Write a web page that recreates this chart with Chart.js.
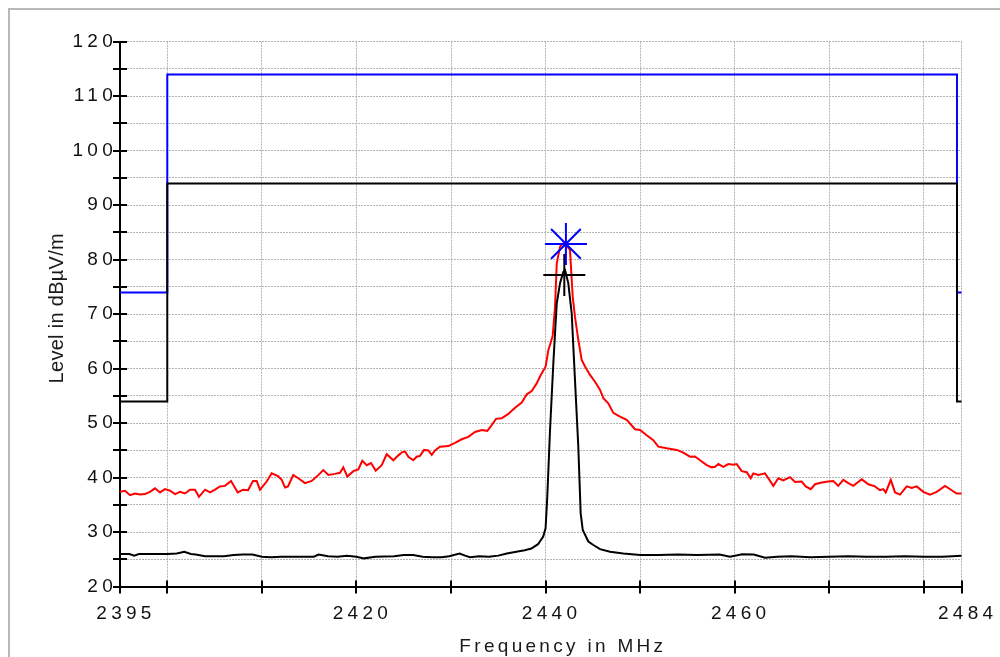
<!DOCTYPE html>
<html><head><meta charset="utf-8">
<script src="https://cdn.jsdelivr.net/npm/chart.js@4.4.1/dist/chart.umd.min.js"></script>
<style>
html,body{margin:0;padding:0;background:#fff;}
#wrap{position:relative;width:1000px;height:657px;overflow:hidden;}
#frame{position:absolute;left:8px;top:8px;width:1200px;height:900px;border-left:2px solid #b8b8b8;border-top:2px solid #b8b8b8;pointer-events:none;}
canvas{position:absolute;left:0;top:0;}
</style></head><body>
<div id="wrap"><canvas id="c" width="1000" height="657"></canvas><div id="frame"></div></div>
<script>
// ---- data ----
const redFreq = [2395.00,2395.53,2396.06,2396.59,2397.11,2397.64,2398.17,2398.70,2399.23,2399.76,2400.29,2400.82,2401.34,2401.87,2402.40,2402.93,2403.35,2403.99,2404.52,2405.05,2405.57,2406.10,2406.74,2407.45,2408.01,2408.54,2409.06,2409.45,2409.80,2410.51,2411.04,2411.71,2412.10,2412.45,2412.76,2413.32,2413.85,2414.56,2415.27,2415.80,2416.50,2417.03,2417.73,2418.26,2418.61,2419.04,2419.67,2420.20,2420.62,2421.09,2421.54,2422.04,2422.67,2423.20,2423.90,2424.43,2424.85,2425.14,2425.49,2426.01,2426.37,2426.72,2427.15,2427.60,2427.96,2428.31,2428.84,2429.72,2430.42,2431.13,2431.83,2432.54,2433.25,2433.84,2434.20,2434.76,2435.36,2436.06,2436.77,2437.48,2438.01,2438.53,2439.06,2439.49,2440.01,2440.29,2440.75,2441.00,2441.18,2441.53,2441.88,2442.06,2442.58,2442.87,2443.11,2443.46,2443.82,2444.17,2444.70,2445.23,2445.76,2446.11,2446.63,2447.16,2447.87,2448.58,2449.46,2449.99,2450.69,2451.39,2451.92,2452.81,2453.87,2454.56,2455.27,2455.80,2456.33,2457.04,2457.57,2457.92,2458.27,2458.79,2459.32,2459.85,2460.21,2460.74,2461.27,2461.69,2461.97,2462.50,2463.20,2463.55,2464.08,2464.61,2465.14,2465.85,2466.38,2467.08,2467.51,2468.04,2468.49,2469.20,2469.90,2470.43,2470.95,2471.48,2472.01,2472.54,2473.43,2474.13,2474.83,2475.36,2475.71,2475.97,2476.50,2476.95,2477.48,2478.19,2478.72,2479.24,2479.94,2480.65,2481.36,2482.24,2482.94,2483.47,2484.00];
const redLevel = [37.4,37.6,36.8,37.1,36.9,37.0,37.4,38.05,37.3,37.9,37.6,37.0,37.4,37.1,37.8,37.8,36.5,37.8,37.3,37.8,38.4,38.5,39.4,37.3,37.8,37.7,39.4,39.4,37.8,39.3,40.8,40.3,39.6,38.2,38.4,40.5,39.9,39.0,39.4,40.2,41.4,40.5,40.7,40.9,41.9,40.2,41.2,41.5,43.1,42.3,42.7,41.3,42.3,44.3,43.2,44.1,44.7,44.8,43.85,43.2,43.85,44.0,45.1,45.0,44.2,45.0,45.7,45.8,46.4,47.05,47.5,48.4,48.75,48.6,49.4,50.8,50.9,51.7,52.85,53.8,55.3,55.9,57.3,58.85,60.4,63.4,66.0,71.4,79.3,82.4,83.0,83.0,81.8,73.2,69.5,65.3,61.6,60.4,58.85,57.6,56.1,54.6,53.65,51.9,51.2,50.6,48.9,48.75,47.8,46.9,45.7,45.4,45.1,44.6,43.85,43.9,43.2,42.3,41.9,42.0,42.5,42.0,42.5,42.4,42.5,41.2,41.0,39.9,40.8,40.5,40.8,39.9,38.5,39.9,39.5,40.1,39.2,39.3,38.4,37.9,38.8,39.1,39.3,39.4,38.5,39.6,39.0,38.5,39.7,38.8,38.4,37.7,37.9,37.3,39.6,37.3,36.9,38.4,38.1,38.4,37.4,36.9,37.4,38.5,37.7,37.1,37.1];

const avgFreq = [2395,2396,2396.5,2397,2398,2399,2400,2401,2401.8,2402.5,2403,2404,2405,2406,2407,2408,2409,2410,2411,2412,2414,2415.5,2416,2417,2418,2419,2420,2420.8,2422,2424,2425,2426,2427,2428,2429,2429.8,2430.9,2431.5,2432,2433,2434,2435,2435.9,2436.9,2437.8,2438.5,2439.2,2439.75,2440.0,2440.18,2440.47,2440.82,2441.18,2441.53,2441.88,2442.06,2442.40,2442.76,2443.11,2443.46,2443.71,2443.93,2444.52,2445.05,2445.76,2446.81,2448.22,2450,2452,2454,2456,2458.4,2459.5,2460.8,2462,2463.2,2464.5,2466,2468,2470,2472,2474,2476,2478,2480,2482,2484];
const avgLevel = [26.0,26.0,25.7,26.0,26.0,26.0,26.0,26.1,26.4,26.0,25.9,25.6,25.6,25.6,25.8,25.9,25.9,25.5,25.4,25.5,25.5,25.5,25.9,25.6,25.5,25.7,25.5,25.2,25.5,25.6,25.8,25.8,25.5,25.4,25.4,25.6,26.1,25.7,25.4,25.6,25.5,25.7,26.1,26.4,26.7,27.0,27.8,29.2,30.7,36.5,48.75,61.0,72.0,75.7,77.8,78.1,75.7,70.2,57.9,45.7,33.5,30.4,28.3,27.65,26.9,26.4,26.1,25.8,25.8,25.9,25.8,25.9,25.5,25.95,25.9,25.3,25.5,25.6,25.4,25.5,25.6,25.5,25.5,25.6,25.5,25.5,25.7];

const limitFreq = [2395,2400,2400,2483.5,2483.5,2484];
const peakLimit = [74,74,114,114,74,74];
const avgLimit  = [54,54,94,94,54,54];

const peakMarkerFreq = [2442.15];
const peakMarkerLevel = [82.9];
const avgMarkerFreq = [2441.98];
const avgMarkerLevel = [77.2];

const xTickValues = [2395,2400,2410,2420,2430,2440,2450,2460,2470,2480,2484];
const xLabelValues = [2395,2420,2440,2460,2484];
const yTickValues = [20,25,30,35,40,45,50,55,60,65,70,75,80,85,90,95,100,105,110,115,120];
const yLabelValues = [20,30,40,50,60,70,80,90,100,110,120];
const xMin = 2395, xMax = 2484, yMin = 20, yMax = 120;

// ---- helpers ----
const pts = (xs, ys) => xs.map((x, i) => ({x, y: ys[i]}));
const FONT = "'Liberation Sans', Arial, sans-serif";

const crossTicks = {
  id: 'crossTicks',
  afterDraw(chart) {
    const {ctx, scales: {x, y}} = chart;
    ctx.save();
    ctx.strokeStyle = '#000';
    ctx.lineWidth = 2;
    ctx.beginPath();
    const y0 = Math.round(y.getPixelForValue(yMin));
    for (const v of xTickValues) {
      const px = Math.round(x.getPixelForValue(v));
      ctx.moveTo(px, y0 - 6.5); ctx.lineTo(px, y0 + 6.5);
    }
    const x0 = Math.round(x.getPixelForValue(xMin));
    for (const v of yTickValues) {
      const py = Math.round(y.getPixelForValue(v));
      ctx.moveTo(x0 - 7, py); ctx.lineTo(x0 + 7, py);
    }
    ctx.stroke();
    ctx.restore();
  }
};

const spacing = {
  id: 'spacing',
  afterLayout(chart) {
    for (const s of Object.values(chart.scales)) {
      if (s._patched) continue;
      s._patched = true;
      const dl = s.drawLabels, dt = s.drawTitle;
      s.drawLabels = function (a) {
        const c = this.ctx; c.save(); c.letterSpacing = '4.3px'; dl.call(this, a); c.restore();
      };
      s.drawTitle = function (a) {
        const c = this.ctx; c.save();
        if (this.axis === 'x') { c.letterSpacing = '3.3px'; c.translate(22, 1); }
        else { c.letterSpacing = '0.3px'; c.translate(0, -6); }
        dt.call(this, a); c.restore();
      };
    }
  }
};

const lineDs = (label, xs, ys, color, width) => ({
  label, data: pts(xs, ys), borderColor: color, backgroundColor: color,
  borderWidth: width, pointRadius: 0, tension: 0, fill: false, showLine: true
});

new Chart(document.getElementById('c'), {
  type: 'scatter',
  data: {
    datasets: [
      {label: 'Peak marker', data: pts(peakMarkerFreq, peakMarkerLevel), pointStyle: 'star', pointRadius: 21, borderColor: '#0000ff', backgroundColor: '#0000ff', borderWidth: 2, showLine: false},
      {label: 'Average marker', data: pts(avgMarkerFreq, avgMarkerLevel), pointStyle: 'cross', pointRadius: 21, borderColor: '#000', backgroundColor: '#000', borderWidth: 2, showLine: false},
      lineDs('Average', avgFreq, avgLevel, '#000000', 2),
      lineDs('Peak', redFreq, redLevel, '#ff0000', 2),
      lineDs('Average limit', limitFreq, avgLimit, '#000000', 2),
      lineDs('Peak limit', limitFreq, peakLimit, '#0000ff', 2)
    ]
  },
  options: {
    responsive: false,
    animation: false,
    devicePixelRatio: 1,
    layout: {padding: {left: 0, top: 41.7, right: 38.3, bottom: 0}},
    plugins: {legend: {display: false}, tooltip: {enabled: false}},
    scales: {
      x: {
        type: 'linear', min: xMin, max: xMax,
        afterBuildTicks: s => { s.ticks = xTickValues.map(v => ({value: v})); },
        afterFit: s => { s.height = 70.3; },
        ticks: {
          autoSkip: false, maxRotation: 0, padding: 16, labelOffset: 6,
          color: '#111', font: {family: FONT, size: 19},
          callback: v => xLabelValues.includes(v) ? String(v) : ''
        },
        grid: {
          drawTicks: false, lineWidth: 1,
          color: c => (c.tick && c.tick.value === xMin) ? 'rgba(0,0,0,0)' : '#b4b4b4'
        },
        border: {display: true, color: '#000', width: 2, dash: [2, 1]},
        title: {display: true, text: 'Frequency in MHz', color: '#1a1a1a', font: {family: FONT, size: 19}, padding: {top: 0, bottom: 0}}
      },
      y: {
        type: 'linear', min: yMin, max: yMax,
        afterBuildTicks: s => { s.ticks = yTickValues.map(v => ({value: v})); },
        afterFit: s => { s.width = 120; },
        ticks: {
          autoSkip: false, padding: 3,
          color: '#111', font: {family: FONT, size: 19},
          callback: v => yLabelValues.includes(v) ? String(v) : ''
        },
        grid: {
          drawTicks: false, lineWidth: 1,
          color: c => (c.tick && c.tick.value === yMin) ? 'rgba(0,0,0,0)' : '#b4b4b4'
        },
        border: {display: true, color: '#000', width: 2, dash: [2, 1]},
        title: {display: true, text: 'Level in dBµV/m', color: '#1a1a1a', font: {family: FONT, size: 20}, padding: {top: 45, bottom: 0}}
      }
    }
  },
  plugins: [spacing, crossTicks]
});
</script>
</body></html>
